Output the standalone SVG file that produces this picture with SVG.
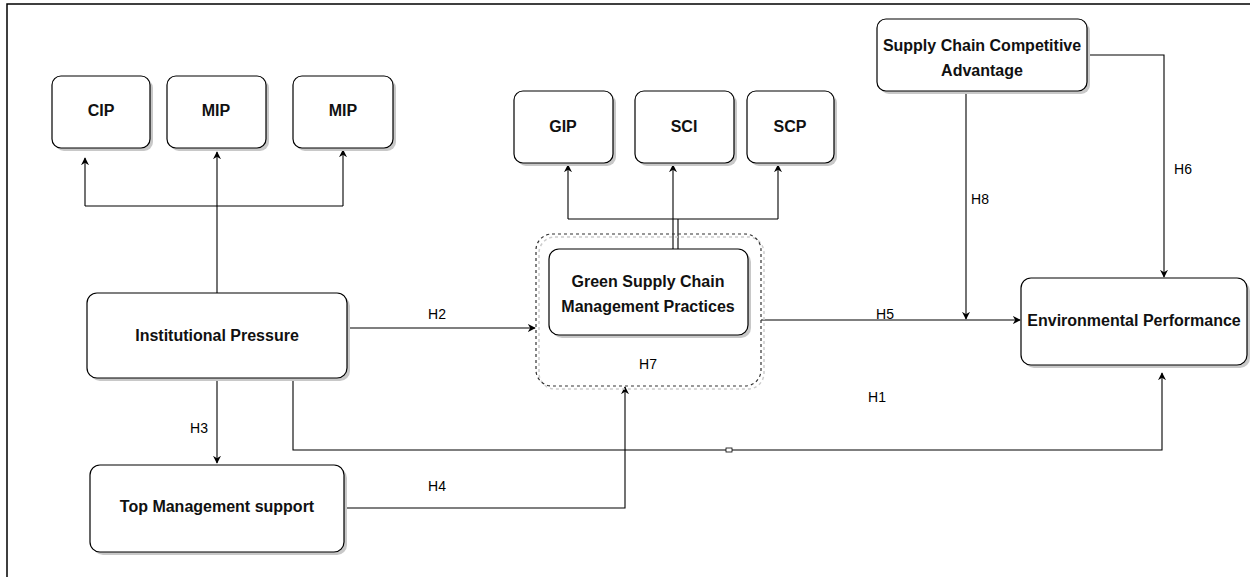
<svg xmlns="http://www.w3.org/2000/svg" width="1250" height="577" viewBox="0 0 1250 577">
<defs>
<marker id="arr" viewBox="0 0 10 10" refX="9" refY="5" markerWidth="8" markerHeight="8" orient="auto" markerUnits="userSpaceOnUse"><path d="M0,0 L10,5 L0,10 L3,5 Z" fill="#000"/></marker>
</defs>
<style>
.box{fill:#fff;stroke:#000;stroke-width:1.2}
.sh{fill:#c8c8c8;stroke:none}
.dash{fill:none;stroke:#333;stroke-width:1.2;stroke-dasharray:3,3}
.ln{fill:none;stroke:#000;stroke-width:1.1}
.t{font-family:"Liberation Sans",Arial,sans-serif;font-size:16px;font-weight:bold;fill:#111;text-anchor:middle;dominant-baseline:middle}
.lbl{font-family:"Liberation Sans",Arial,sans-serif;font-size:14px;fill:#000;text-anchor:middle;dominant-baseline:middle}
</style>
<rect width="1250" height="577" fill="#fff"/>
<path d="M7,577 V4 H1250" fill="none" stroke="#000" stroke-width="1.5"/>

<g id="edges">
<path class="ln" d="M217,293 V152" marker-end="url(#arr)"/>
<path class="ln" d="M85,206 H343 M85,206 V158" marker-end="url(#arr)"/>
<path class="ln" d="M343,206 V150" marker-end="url(#arr)"/>
<path class="ln" d="M568,219 H778 M568,219 V165" marker-end="url(#arr)"/>
<path class="ln" d="M673,249 V165" marker-end="url(#arr)"/>
<path class="ln" d="M678,249 V219"/>
<path class="ln" d="M778,219 V165" marker-end="url(#arr)"/>
<path class="ln" d="M347,328 H535" marker-end="url(#arr)"/>
<path class="ln" d="M761,320 H1020" marker-end="url(#arr)"/>
<path class="ln" d="M966,91 V319" marker-end="url(#arr)"/>
<path class="ln" d="M1087,55 H1164 V277" marker-end="url(#arr)"/>
<path class="ln" d="M217,378 V463" marker-end="url(#arr)"/>
<path class="ln" d="M344,508 H625 V387" marker-end="url(#arr)"/>
<path class="ln" d="M293,378 V450 H1162 V373" marker-end="url(#arr)"/>
<rect x="726" y="448" width="6" height="4" fill="#fff" stroke="#000" stroke-width="0.8"/>
<text class="lbl" x="437" y="315">H2</text>
<text class="lbl" x="885" y="315">H5</text>
<text class="lbl" x="199" y="429">H3</text>
<text class="lbl" x="437" y="487">H4</text>
<text class="lbl" x="877" y="398">H1</text>
<text class="lbl" x="980" y="200">H8</text>
<text class="lbl" x="1183" y="170">H6</text>
</g>

<g id="cip"><rect class="sh" x="55" y="79" width="98" height="72" rx="9"/><rect class="box" x="52" y="76" width="98" height="72" rx="9"/><text class="t" x="101" y="112">CIP</text></g>
<g id="mip1"><rect class="sh" x="170" y="79" width="99" height="72" rx="9"/><rect class="box" x="167" y="76" width="99" height="72" rx="9"/><text class="t" x="216" y="112">MIP</text></g>
<g id="mip2"><rect class="sh" x="296" y="79" width="100" height="72" rx="9"/><rect class="box" x="293" y="76" width="100" height="72" rx="9"/><text class="t" x="343" y="112">MIP</text></g>

<g id="gip"><rect class="sh" x="517" y="94" width="99" height="72" rx="9"/><rect class="box" x="514" y="91" width="99" height="72" rx="9"/><text class="t" x="563" y="128">GIP</text></g>
<g id="sci"><rect class="sh" x="638" y="94" width="99" height="72" rx="9"/><rect class="box" x="635" y="91" width="99" height="72" rx="9"/><text class="t" x="684" y="128">SCI</text></g>
<g id="scp"><rect class="sh" x="750" y="94" width="87" height="72" rx="9"/><rect class="box" x="747" y="91" width="87" height="72" rx="9"/><text class="t" x="790" y="128">SCP</text></g>

<g id="scca"><rect class="sh" x="880" y="22" width="210" height="72" rx="9"/><rect class="box" x="877" y="19" width="210" height="72" rx="9"/><text class="t" x="982" y="47">Supply Chain Competitive</text><text class="t" x="982" y="72">Advantage</text></g>

<g id="ip"><rect class="sh" x="90" y="296" width="260" height="85" rx="10"/><rect class="box" x="87" y="293" width="260" height="85" rx="10"/><text class="t" x="217" y="337">Institutional Pressure</text></g>

<g id="gscm">
<rect x="539" y="237" width="225" height="152" rx="16" style="fill:none;stroke:#ccc;stroke-width:1.5;stroke-dasharray:3,3"/>
<rect class="dash" x="536" y="234" width="225" height="152" rx="16"/>
<rect class="sh" x="552" y="252" width="199" height="86" rx="10"/>
<rect class="box" x="549" y="249" width="199" height="86" rx="10"/>
<text class="t" x="648" y="283">Green Supply Chain</text>
<text class="t" x="648" y="308">Management Practices</text>
<text class="lbl" x="648" y="365">H7</text>
</g>

<g id="ep"><rect class="sh" x="1024" y="281" width="226" height="87" rx="10"/><rect class="box" x="1021" y="278" width="226" height="87" rx="10"/><text class="t" x="1134" y="322">Environmental Performance</text></g>

<g id="tms"><rect class="sh" x="93" y="468" width="254" height="87" rx="10"/><rect class="box" x="90" y="465" width="254" height="87" rx="10"/><text class="t" x="217" y="508">Top Management support</text></g>
</svg>
